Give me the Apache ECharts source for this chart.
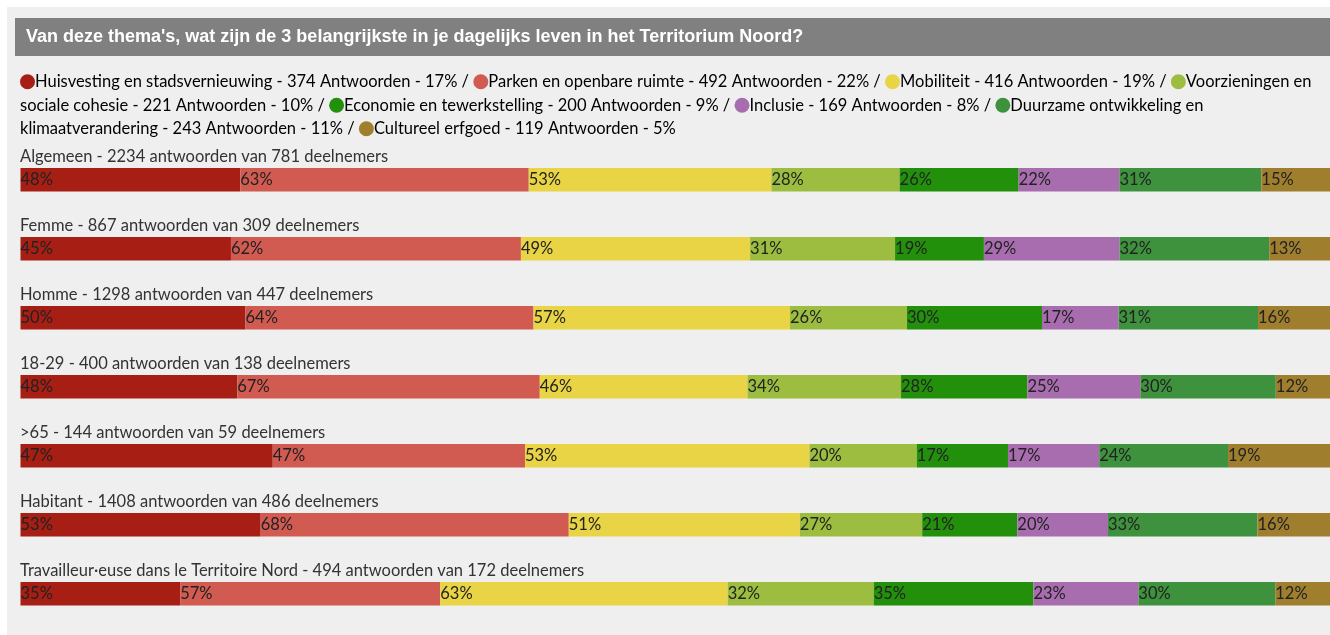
<!DOCTYPE html>
<html lang="nl">
<head>
    <meta charset="UTF-8">
    <title>Thema's Territorium Noord</title>
    <style>
        html, body {
            margin: 0;
            padding: 0;
            background: #ffffff;
        }
        #main {
            width: 1330px;
            height: 635px;
        }
    </style>
</head>
<body>
<div id="main"></div>

<script src="https://cdn.jsdelivr.net/npm/echarts@6/dist/echarts.min.js"></script>
<script>
    // thema's (legenda)
    var themes = ['Huisvesting en stadsvernieuwing', 'Parken en openbare ruimte', 'Mobiliteit',
        'Voorzieningen en sociale cohesie', 'Economie en tewerkstelling', 'Inclusie',
        'Duurzame ontwikkeling en klimaatverandering', 'Cultureel erfgoed'];
    var themeAnswers = [374, 492, 416, 221, 200, 169, 243, 119];
    var themeShare = [17, 22, 19, 10, 9, 8, 11, 5];
    var themeColors = ['#a61e14', '#d15a51', '#e9d445', '#9cbd3f', '#23900c', '#a86daf', '#3e913d', '#9f7e2d'];

    // groepen (rijen)
    var groups = ['Algemeen', 'Femme', 'Homme', '18-29', '>65', 'Habitant',
        'Travailleur·euse dans le Territoire Nord'];
    var groupAnswers = [2234, 867, 1298, 400, 144, 1408, 494];
    var groupPeople = [781, 309, 447, 138, 59, 486, 172];

    // percentages per groep, in volgorde van de thema's
    var pctAlgemeen = [48, 63, 53, 28, 26, 22, 31, 15];
    var pctFemme = [45, 62, 49, 31, 19, 29, 32, 13];
    var pctHomme = [50, 64, 57, 26, 30, 17, 31, 16];
    var pct1829 = [48, 67, 46, 34, 28, 25, 30, 12];
    var pct65 = [47, 47, 53, 20, 17, 17, 24, 19];
    var pctHabitant = [53, 68, 51, 27, 21, 20, 33, 16];
    var pctTravailleur = [35, 57, 63, 32, 35, 23, 30, 12];
    var pctRows = [pctAlgemeen, pctFemme, pctHomme, pct1829, pct65, pctHabitant, pctTravailleur];

    var font = 'Lato, "Noto Sans", sans-serif';
    var fontSize = 16.5;
    var rowTop = 168;
    var rowStep = 69;
    var barHeight = 23.5;

    // legenda als doorlopende tekst, regelafbreking na deze woorden
    var legendBreaks = {3: 'Voorzieningen en', 6: 'Duurzame ontwikkeling en'};
    var rich = {
        t: {fontFamily: font, fontSize: fontSize, color: '#333', lineHeight: 23.5, height: 23.5}
    };
    var legendText = '';
    for (var i = 0; i < themes.length; i++) {
        rich['m' + i] = {width: 15, height: 15, borderRadius: 7.5, backgroundColor: themeColors[i]};
        var themeName = themes[i];
        if (legendBreaks[i]) themeName = legendBreaks[i] + '\n' + themeName.substring(legendBreaks[i].length + 1);
        var item = themeName + ' - ' + themeAnswers[i] + ' Antwoorden - ' + themeShare[i] + '%';
        if (i > 0) legendText += '{t| / }';
        var parts = item.split('\n');
        legendText += '{m' + i + '| }{t|' + parts[0] + '}';
        if (parts.length > 1) legendText += '\n{t|' + parts[1] + '}';
    }

    var grids = [], xAxes = [], yAxes = [], series = [];
    var graphics = [
        {type: 'rect', shape: {x: 7, y: 7, width: 1340, height: 640}, style: {fill: '#efefef'}, silent: true},
        {type: 'rect', shape: {x: 15, y: 18, width: 1330, height: 38}, style: {fill: '#808080'}, silent: true},
        {
            type: 'text', x: 26, y: 37,
            style: {
                text: "Van deze thema's, wat zijn de 3 belangrijkste in je dagelijks leven in het Territorium Noord?",
                fill: '#ffffff', font: 'bold 18px "Liberation Sans", Arial, sans-serif',
                verticalAlign: 'middle'
            }
        },
        {
            type: 'text', x: 20, y: 70,
            style: {text: legendText, rich: rich, verticalAlign: 'top'}
        }
    ];

    for (var r = 0; r < groups.length; r++) {
        var rowY = rowTop + r * rowStep;
        var sum = 0;
        for (var k = 0; k < pctRows[r].length; k++) sum += pctRows[r][k];

        graphics.push({
            type: 'text', x: 20, y: rowY - 11,
            style: {
                text: groups[r] + ' - ' + groupAnswers[r] + ' antwoorden van ' + groupPeople[r] + ' deelnemers',
                fill: '#333', font: fontSize + 'px ' + font, verticalAlign: 'middle'
            }
        });

        grids.push({left: 20.5, top: rowY, width: 1315, height: barHeight});
        xAxes.push({type: 'value', gridIndex: r, min: 0, max: sum, show: false});
        yAxes.push({type: 'category', gridIndex: r, data: [groups[r]], show: false});

        for (var t = 0; t < themes.length; t++) {
            series.push({
                name: themes[t],
                type: 'bar',
                stack: 'rij' + r,
                xAxisIndex: r,
                yAxisIndex: r,
                barWidth: barHeight,
                itemStyle: {color: themeColors[t]},
                label: {
                    show: true,
                    position: 'insideLeft',
                    distance: 0,
                    formatter: '{c}%',
                    color: '#222',
                    fontFamily: font,
                    fontSize: fontSize,
                    padding: [2, 0, 0, 0]
                },
                silent: true,
                data: [pctRows[r][t]]
            });
        }
    }

    var myChart = echarts.init(document.getElementById('main'));
    var option = {
        backgroundColor: '#ffffff',
        animation: false,
        grid: grids,
        xAxis: xAxes,
        yAxis: yAxes,
        series: series,
        graphic: graphics
    };
    myChart.setOption(option);
</script>
</body>
</html>
